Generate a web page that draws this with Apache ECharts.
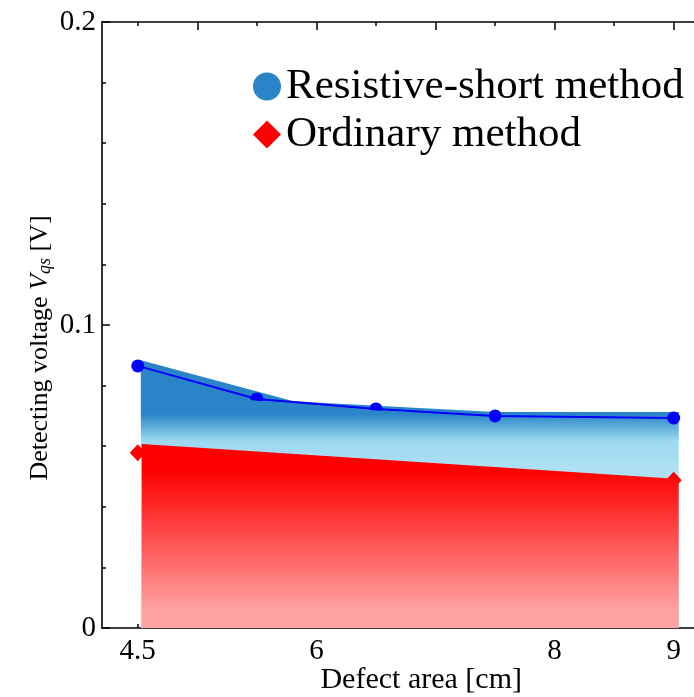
<!DOCTYPE html>
<html><head><meta charset="utf-8">
<script src="https://cdn.jsdelivr.net/npm/echarts@6/dist/echarts.min.js"></script>
<style>html,body{margin:0;padding:0;background:#fff}#c{width:694px;height:697px}</style>
</head><body><div id="c"></div>
<script>
// ---- data ----
const defectArea = [4.5, 5.5, 6.5, 7.5, 9];
const resistiveShort = [0.0865, 0.0756, 0.0723, 0.0700, 0.0693];
const ordinary = [0.0578, null, null, null, 0.0488];
const resistiveBandX = [4.526, 5.80, 6.03, 7.5, 9.042];
const resistiveBandTop = [0.0884, 0.0749, 0.0743, 0.0713, 0.0713];
const resistiveOverlayX = [5.33, 5.5, 6.5, 6.75];
const resistiveOverlayTop = [0.0758, 0.0750, 0.0718, 0.0714];
const ordinaryBandX = [4.534, 9.042];
const ordinaryBandTop = [0.0607, 0.0492];
const xLabelValues = [4.5, 6, 8, 9];
const xMajorTicks = [5, 6, 7, 8, 9];
const xMinorTicks = [4.5, 5.5, 6.5, 7.5, 8.5];
const seriesNames = ['Resistive-short method', 'Ordinary method'];

// ---- chart ----
const FONT = '"Liberation Serif", "Times New Roman", serif';
const chart = echarts.init(document.getElementById('c'), null, {renderer: 'canvas'});
const zip = (xs, ys) => xs.map((x, i) => [x, ys[i]]).filter(d => d[1] != null);
const lineCol = '#000';
const blueGrad = () => new echarts.graphic.LinearGradient(0, 414, 0, 468, [
  {offset: 0, color: '#2a85c8'}, {offset: 0.5, color: '#9cd8f1'}, {offset: 1, color: '#aee0f4'}], true);

function xAxisDef(pos, ticks, len, showLine, labels, extra) {
  return Object.assign({
    type: 'value', position: pos, min: 4.2, max: 9.56,
    axisLine: {show: showLine, onZero: false, lineStyle: {color: lineCol, width: 1.6}},
    axisTick: {show: true, inside: true, length: len, customValues: ticks, lineStyle: {color: lineCol, width: 1.5}},
    axisLabel: labels ? {show: true, customValues: labels, fontFamily: FONT, fontSize: 29, color: '#000', margin: 9} : {show: false},
    splitLine: {show: false}
  }, extra || {});
}

const option = {
  animation: false,
  backgroundColor: '#fff',
  grid: {left: 102, top: 22, width: 638.4, height: 606, containLabel: false, outerBoundsMode: 'none'},
  xAxis: [
    xAxisDef('bottom', xMinorTicks, 4, true, xLabelValues, {
      name: 'Defect area [cm]', nameLocation: 'middle', nameGap: 37, nameMoveOverlap: false,
      nameTextStyle: {fontFamily: FONT, fontSize: 30, color: '#000'}
    }),
    xAxisDef('bottom', xMajorTicks, 8, false, null),
    xAxisDef('top', xMinorTicks, 4, true, null),
    xAxisDef('top', xMajorTicks, 8, false, null)
  ],
  yAxis: [{
    type: 'value', min: 0, max: 0.2, interval: 0.1,
    axisLine: {show: true, lineStyle: {color: lineCol, width: 1.6}},
    axisTick: {show: true, inside: true, length: 8, lineStyle: {color: lineCol, width: 1.5}},
    minorTick: {show: true, splitNumber: 5, length: 4, lineStyle: {color: lineCol, width: 1.5}},
    axisLabel: {fontFamily: FONT, fontSize: 29, color: '#000', margin: 6},
    splitLine: {show: false}
  }],
  legend: {
    orient: 'vertical', left: 253, top: 65, padding: 0, itemWidth: 28, itemHeight: 28, itemGap: 5,
    textStyle: {fontFamily: FONT, fontSize: 43, color: '#000', lineHeight: 43},
    data: [
      {name: seriesNames[0], icon: 'circle', itemStyle: {color: '#2a85c8'}},
      {name: seriesNames[1], icon: 'diamond', itemStyle: {color: '#ff0000'}}
    ]
  },
  graphic: [{
    type: 'text', x: 40, y: 348, rotation: Math.PI / 2,
    style: {
      text: '{a|Detecting voltage }{v|V}{s|qs}{a| [V]}',
      align: 'center', verticalAlign: 'middle',
      rich: {
        a: {fontFamily: FONT, fontSize: 26, lineHeight: 28, fill: '#000'},
        v: {fontFamily: FONT, fontSize: 26, lineHeight: 28, fontStyle: 'italic', fill: '#000'},
        s: {fontFamily: FONT, fontSize: 18, lineHeight: 12, fontStyle: 'italic', verticalAlign: 'bottom', fill: '#000'}
      }
    }
  }],
  series: [
    {
      name: 'Resistive-short band', type: 'line', z: 1, data: zip(resistiveBandX, resistiveBandTop),
      symbol: 'none', lineStyle: {width: 0}, silent: true,
      areaStyle: {opacity: 1, color: blueGrad()}
    },
    {
      name: seriesNames[0], type: 'line', z: 2, data: zip(defectArea, resistiveShort),
      symbol: 'circle', symbolSize: 13, itemStyle: {color: '#0000ff'},
      lineStyle: {color: '#0000ff', width: 2}
    },
    {
      name: 'Resistive-short band overlay', type: 'line', z: 2.5, data: zip(resistiveOverlayX, resistiveOverlayTop),
      symbol: 'none', lineStyle: {width: 0}, silent: true,
      areaStyle: {opacity: 1, color: blueGrad()}
    },
    {
      name: seriesNames[1], type: 'scatter', z: 2, data: zip(defectArea, ordinary),
      symbol: 'diamond', symbolSize: [16, 17], itemStyle: {color: '#ff0000', opacity: 1}
    },
    {
      name: 'Ordinary band', type: 'line', z: 3, data: zip(ordinaryBandX, ordinaryBandTop),
      symbol: 'none', lineStyle: {width: 0}, silent: true,
      areaStyle: {opacity: 1, color: new echarts.graphic.LinearGradient(0, 470, 0, 610, [
        {offset: 0, color: '#ff0000'}, {offset: 1, color: '#ffa2a2'}], true)}
    }
  ]
};
chart.setOption(option);
</script></body></html>
